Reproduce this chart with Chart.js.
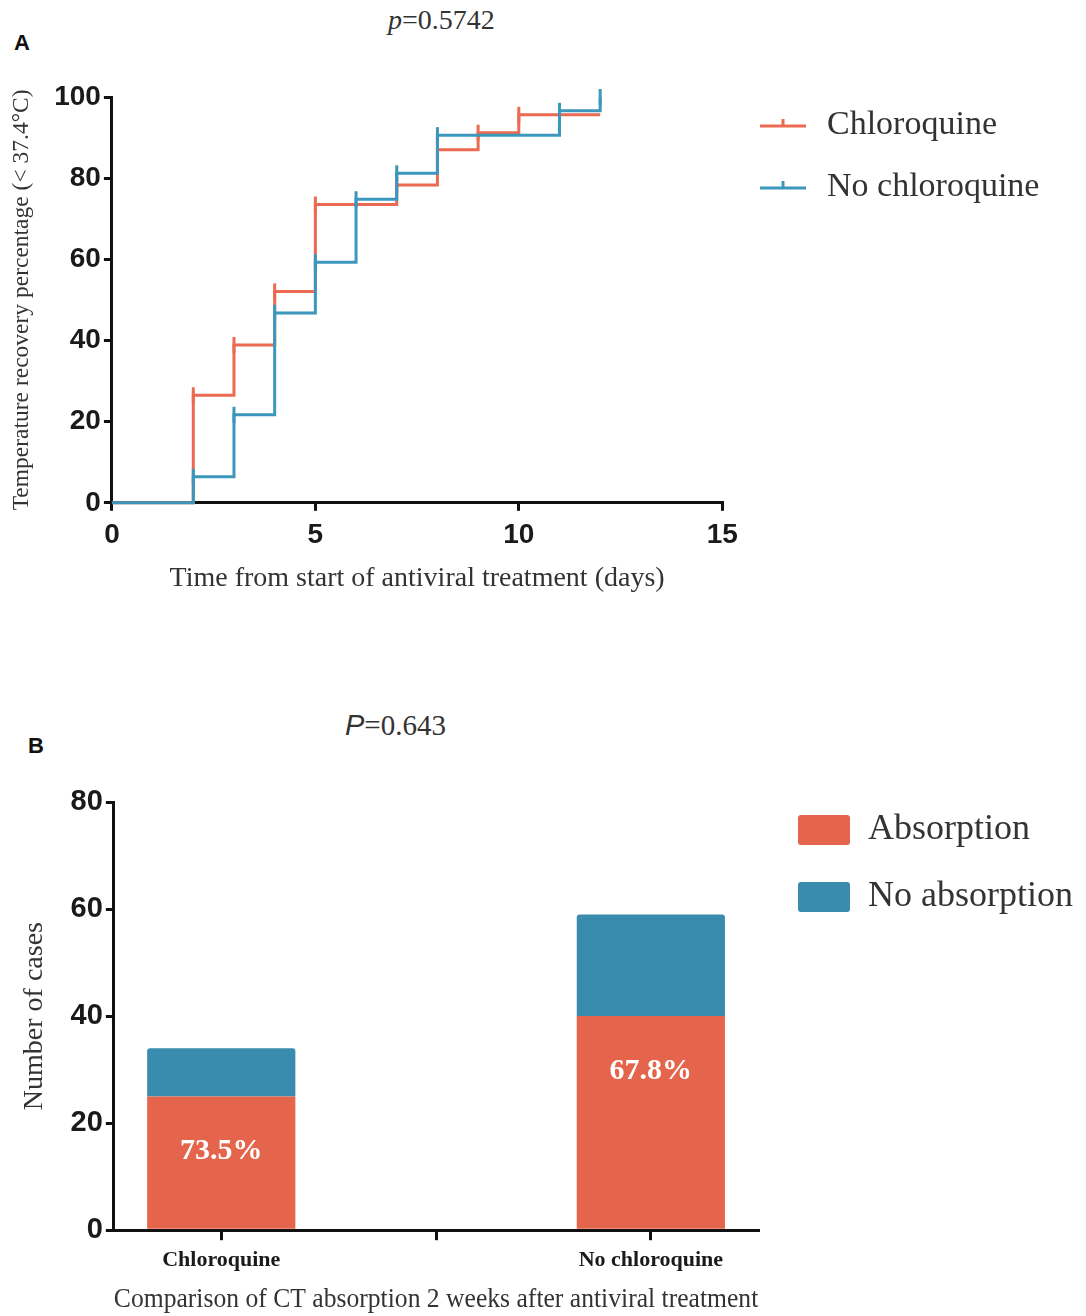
<!DOCTYPE html>
<html>
<head>
<meta charset="utf-8">
<script src="https://cdn.jsdelivr.net/npm/chart.js@4.4.1/dist/chart.umd.min.js"></script>
<style>
  body { margin: 0; background: #fff; width: 1086px; height: 1316px; overflow: hidden; position: relative; }
  canvas { position: absolute; left: 0; }
  .txt { position: absolute; color: #333; font-family: "Liberation Serif", serif; white-space: nowrap; line-height: 1; }
  .panel { position: absolute; font: bold 22px "Liberation Sans", Arial, sans-serif; color: #111; line-height: 1; }
</style>
</head>
<body>
<div class="panel" style="left:14px;top:32px">A</div>
<div class="txt" style="left:388px;top:6px;font-size:28px"><i>p</i>=0.5742</div>
<div class="panel" style="left:28px;top:735px">B</div>
<div class="txt" style="left:345px;top:711px;font-size:29px"><i style="font-family:'Liberation Sans',Arial,sans-serif">P</i>=0.643</div>

<canvas id="kmChart" width="1086" height="620" style="top:0"></canvas>
<canvas id="ctChart" width="1086" height="630" style="top:686px"></canvas>

<script>
// ---- panel A: temperature recovery (step curves) ----
const chloroDays = [0, 2, 3, 4, 5, 7, 8, 9, 10, 12];
const chloroPct = [0, 26.5, 38.9, 52.1, 73.5, 78.3, 87.0, 91.2, 95.6, 95.6];
const noChloroDays = [0, 2, 3, 4, 5, 6, 7, 8, 11, 12];
const noChloroPct = [0, 6.4, 21.7, 46.8, 59.3, 74.8, 81.2, 90.6, 96.6, 100];
const kmXTicks = [0, 5, 10, 15];
const kmYTicks = [0, 20, 40, 60, 80, 100];

// ---- panel B: CT absorption ----
const groups = ['Chloroquine', '', 'No chloroquine'];
const absorption = [25, null, 40];
const noAbsorption = [9, null, 19];
const pctLabels = ['73.5%', '', '67.8%'];

const RED = '#EC6A52', BLUE = '#3B97BC';
const BAR_RED = '#E5654C', BAR_BLUE = '#3A8CAE';
const SANS = '"Liberation Sans", Arial, sans-serif';
const SERIF = '"Liberation Serif", "Times New Roman", serif';

// put the legend items where the figure has them
const legendSpot = {
  id: 'legendSpot',
  afterLayout(chart, args, opts) {
    const lg = chart.legend;
    if (!lg || opts.left == null) return;
    const pad = lg.options.labels.padding;
    lg.left = opts.left - pad;
    lg.top = opts.top - pad;
    lg.right = chart.width;
    lg.bottom = chart.height;
    lg.width = lg.right - lg.left;
    lg.height = lg.bottom - lg.top;
  }
};

// legend symbol: line with a censor tick
function legendLine(color) {
  const c = document.createElement('canvas');
  c.width = 46; c.height = 20;
  const g = c.getContext('2d');
  g.strokeStyle = color; g.lineWidth = 3;
  g.beginPath();
  g.moveTo(0, 11); g.lineTo(46, 11);
  g.moveTo(23, 11); g.lineTo(23, 4);
  g.stroke();
  return c;
}

function toPoints(xs, ys) {
  return xs.map((x, i) => ({ x: x, y: ys[i] }));
}
// tick marks on every step, none at the origin
function tickRadii(n, lastTick) {
  return Array.from({ length: n }, (_, i) => (i === 0 || (i === n - 1 && !lastTick)) ? 0 : 8);
}

const axisGrid = { display: true, drawOnChartArea: false, drawTicks: true, tickLength: 8, color: '#111', lineWidth: 3 };
const axisBorder = { display: true, color: '#111', width: 3 };

new Chart(document.getElementById('kmChart'), {
  type: 'line',
  data: {
    datasets: [{
      label: 'Chloroquine',
      data: toPoints(chloroDays, chloroPct),
      borderColor: RED,
      backgroundColor: RED,
      borderWidth: 3,
      stepped: true,
      fill: false,
      order: 1,
      pointStyle: 'line',
      rotation: 90,
      pointRadius: tickRadii(chloroDays.length, false),
      pointBorderWidth: 3,
      pointBorderColor: RED,
      clip: false
    }, {
      label: 'No chloroquine',
      data: toPoints(noChloroDays, noChloroPct),
      borderColor: BLUE,
      backgroundColor: BLUE,
      borderWidth: 3,
      stepped: true,
      fill: false,
      order: 0,
      pointStyle: 'line',
      rotation: 90,
      pointRadius: tickRadii(noChloroDays.length, true),
      pointBorderWidth: 3,
      pointBorderColor: BLUE,
      clip: false
    }]
  },
  options: {
    responsive: false,
    animation: false,
    layout: { padding: { top: 97, left: 0, right: 123, bottom: 21 } },
    scales: {
      x: {
        type: 'linear', min: 0, max: 15,
        afterBuildTicks: s => { s.ticks = kmXTicks.map(v => ({ value: v })); },
        grid: axisGrid, border: axisBorder,
        ticks: { color: '#1a1a1a', padding: 8, font: { family: SANS, size: 28, weight: 'bold' } },
        title: { display: true, text: 'Time from start of antiviral treatment (days)', color: '#333',
                 font: { family: SERIF, size: 28 }, padding: { top: 1, bottom: 4 } }
      },
      y: {
        type: 'linear', min: 0, max: 100,
        afterBuildTicks: s => { s.ticks = kmYTicks.map(v => ({ value: v })); },
        grid: axisGrid, border: axisBorder,
        ticks: { color: '#1a1a1a', padding: 3, font: { family: SANS, size: 28, weight: 'bold' } },
        title: { display: true, text: 'Temperature recovery percentage (< 37.4°C)', color: '#333',
                 font: { family: SERIF, size: 23.5 }, padding: { top: 8, bottom: 15 } }
      }
    },
    plugins: {
      tooltip: { enabled: false },
      legend: {
        position: 'right', align: 'start',
        labels: {
          usePointStyle: true, pointStyleWidth: 54, padding: 28, color: '#333',
          font: { family: SERIF, size: 34 },
          generateLabels: chart => chart.data.datasets.map((ds, i) => ({
            text: ds.label, datasetIndex: i, hidden: false,
            pointStyle: legendLine(ds.borderColor), fillStyle: ds.borderColor,
            strokeStyle: ds.borderColor, lineWidth: 0, fontColor: '#333'
          }))
        }
      },
      legendSpot: { left: 756, top: 108 }
    }
  },
  plugins: [legendSpot]
});

// percentage labels inside the red segments
const barText = {
  id: 'barText',
  afterDatasetsDraw(chart) {
    const ctx = chart.ctx;
    const meta = chart.getDatasetMeta(0);
    ctx.save();
    ctx.font = 'bold 30px ' + SERIF;
    ctx.fillStyle = '#fff';
    ctx.textAlign = 'center';
    ctx.textBaseline = 'middle';
    meta.data.forEach((bar, i) => {
      if (!pctLabels[i]) return;
      ctx.fillText(pctLabels[i], bar.x, bar.y + 55);
    });
    ctx.restore();
  }
};

new Chart(document.getElementById('ctChart'), {
  type: 'bar',
  data: {
    labels: groups,
    datasets: [
      { label: 'Absorption', data: absorption, backgroundColor: BAR_RED, borderWidth: 0, borderRadius: 3 },
      { label: 'No absorption', data: noAbsorption, backgroundColor: BAR_BLUE, borderWidth: 0, borderRadius: 3 }
    ]
  },
  options: {
    responsive: false,
    animation: false,
    categoryPercentage: 1,
    barPercentage: 0.69,
    layout: { padding: { top: 116, left: 0, right: 75, bottom: 0 } },
    scales: {
      x: {
        stacked: true,
        grid: Object.assign({}, axisGrid, { offset: false, tickLength: 10 }), border: axisBorder,
        ticks: { color: '#1a1a1a', padding: 7, font: { family: SERIF, size: 22, weight: 'bold' } },
        title: { display: true, text: 'Comparison of CT absorption 2 weeks after antiviral treatment', color: '#333',
                 font: { family: SERIF, size: 27 }, padding: { top: 3, bottom: 0 } }
      },
      y: {
        stacked: true, min: 0, max: 80,
        ticks: { stepSize: 20, color: '#1a1a1a', padding: 3, font: { family: SANS, size: 29, weight: 'bold' } },
        grid: axisGrid, border: axisBorder,
        title: { display: true, text: 'Number of cases', color: '#333',
                 font: { family: SERIF, size: 28 }, padding: { top: 18, bottom: 16 } }
      }
    },
    plugins: {
      tooltip: { enabled: false },
      legend: {
        position: 'right', align: 'start',
        labels: { boxWidth: 52, boxHeight: 30, padding: 31, color: '#333', useBorderRadius: true, borderRadius: 3,
                  font: { family: SERIF, size: 36 } }
      },
      legendSpot: { left: 798, top: 126 }
    }
  },
  plugins: [legendSpot, barText]
});
</script>
</body>
</html>
